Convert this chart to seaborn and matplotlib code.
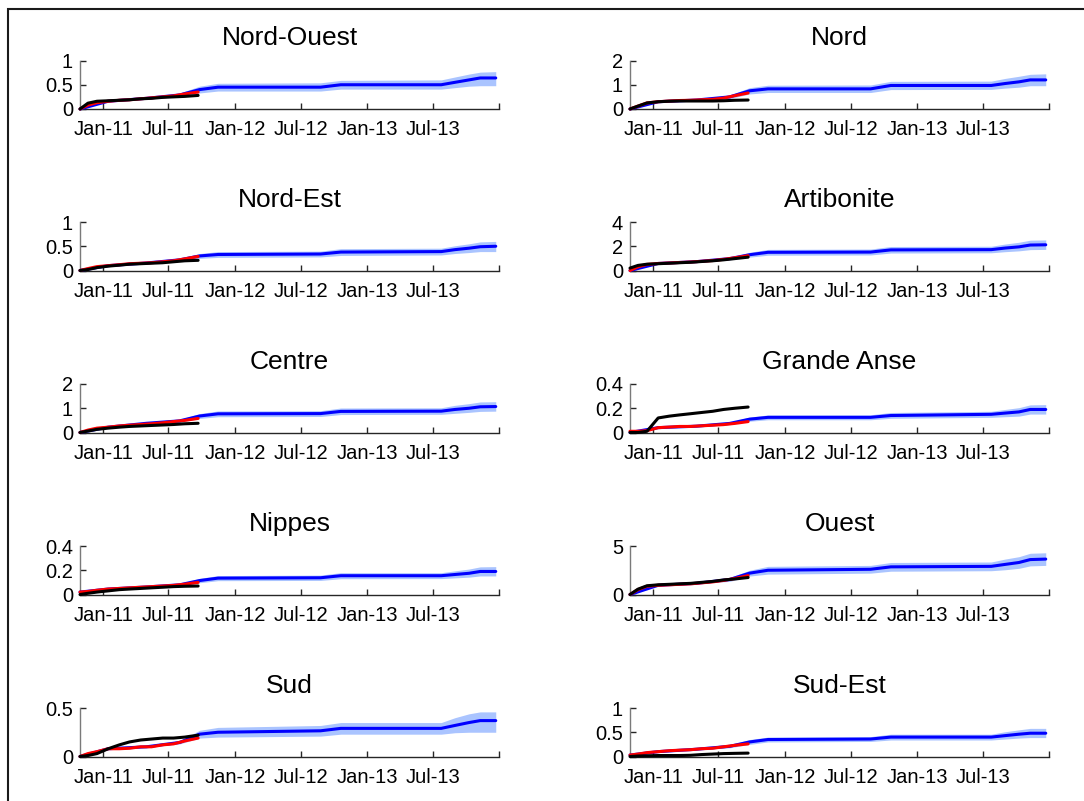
import matplotlib
matplotlib.use("Agg")
import matplotlib.pyplot as plt
from matplotlib.patches import Rectangle
import pandas as pd
import seaborn as sns

# ---------------------------------------------------------------- data
OBS_DATES = ["2010-10-29", "2010-11-20", "2010-12-15", "2011-01-15", "2011-02-15",
             "2011-03-15", "2011-04-15", "2011-05-15", "2011-06-15", "2011-07-15",
             "2011-08-15", "2011-09-21"]
MODEL_DATES = ["2010-10-29", "2011-01-15", "2011-05-01", "2011-08-01", "2011-09-25",
               "2011-11-15", "2012-08-25", "2012-10-20", "2013-07-25", "2013-09-01",
               "2013-10-10", "2013-11-10", "2013-12-23"]

X_START, X_END = "2010-10-29", "2014-01-01"
X_TICKS = ["2011-01-01", "2011-07-01", "2012-01-01", "2012-07-01",
           "2013-01-01", "2013-07-01", "2014-01-01"]
X_TICK_LABELS = ["Jan-11", "Jul-11", "Jan-12", "Jul-12", "Jan-13", "Jul-13", ""]

REGIONS = ["Nord-Ouest", "Nord", "Nord-Est", "Artibonite", "Centre",
           "Grande Anse", "Nippes", "Ouest", "Sud", "Sud-Est"]

NORD_OUEST_YTICKS = [0, 0.5, 1]
NORD_OUEST_FIT = [0, 0.16, 0.22, 0.29, 0.40, 0.45, 0.45, 0.50, 0.50, 0.55, 0.60, 0.64, 0.64]
NORD_OUEST_LO = [0, 0.16, 0.21, 0.25, 0.33, 0.37, 0.37, 0.41, 0.41, 0.44, 0.47, 0.48, 0.48]
NORD_OUEST_HI = [0, 0.16, 0.23, 0.33, 0.47, 0.53, 0.54, 0.59, 0.60, 0.66, 0.72, 0.76, 0.77]
NORD_OUEST_RED = [0, 0.08, 0.13, 0.16, 0.18, 0.19, 0.21, 0.23, 0.25, 0.27, 0.31, 0.35]
NORD_OUEST_BLACK = [0, 0.12, 0.16, 0.17, 0.18, 0.19, 0.21, 0.22, 0.24, 0.25, 0.26, 0.28]

NORD_YTICKS = [0, 1, 2]
NORD_FIT = [0, 0.30, 0.37, 0.50, 0.75, 0.83, 0.83, 0.97, 0.97, 1.05, 1.12, 1.20, 1.20]
NORD_LO = [0, 0.30, 0.36, 0.43, 0.62, 0.68, 0.68, 0.80, 0.81, 0.86, 0.90, 0.96, 0.96]
NORD_HI = [0, 0.30, 0.38, 0.57, 0.88, 0.98, 0.99, 1.14, 1.15, 1.26, 1.35, 1.43, 1.45]
NORD_RED = [0, 0.12, 0.25, 0.30, 0.33, 0.35, 0.36, 0.38, 0.40, 0.45, 0.55, 0.66]
NORD_BLACK = [0, 0.12, 0.25, 0.30, 0.32, 0.33, 0.33, 0.33, 0.33, 0.34, 0.36, 0.37]

NORD_EST_YTICKS = [0, 0.5, 1]
NORD_EST_FIT = [0, 0.10, 0.155, 0.22, 0.30, 0.33, 0.34, 0.38, 0.39, 0.43, 0.46, 0.49, 0.50]
NORD_EST_LO = [0, 0.10, 0.15, 0.19, 0.25, 0.27, 0.28, 0.31, 0.32, 0.35, 0.37, 0.39, 0.39]
NORD_EST_HI = [0, 0.10, 0.16, 0.25, 0.35, 0.39, 0.40, 0.45, 0.46, 0.51, 0.55, 0.59, 0.60]
NORD_EST_RED = [0, 0.04, 0.08, 0.10, 0.12, 0.14, 0.15, 0.16, 0.18, 0.20, 0.24, 0.29]
NORD_EST_BLACK = [0, 0.02, 0.06, 0.09, 0.11, 0.13, 0.14, 0.15, 0.16, 0.18, 0.20, 0.21]

ARTIBONITE_YTICKS = [0, 2, 4]
ARTIBONITE_FIT = [0, 0.58, 0.73, 0.98, 1.30, 1.50, 1.52, 1.70, 1.72, 1.85, 1.95, 2.10, 2.12]
ARTIBONITE_LO = [0, 0.58, 0.71, 0.88, 1.10, 1.26, 1.28, 1.44, 1.46, 1.55, 1.62, 1.72, 1.74]
ARTIBONITE_HI = [0, 0.58, 0.75, 1.08, 1.50, 1.74, 1.77, 1.98, 2.00, 2.18, 2.33, 2.50, 2.52]
ARTIBONITE_RED = [0, 0.30, 0.50, 0.58, 0.62, 0.66, 0.70, 0.76, 0.82, 0.92, 1.05, 1.22]
ARTIBONITE_BLACK = [0.2, 0.42, 0.52, 0.56, 0.60, 0.64, 0.68, 0.74, 0.80, 0.88, 0.98, 1.10]

CENTRE_YTICKS = [0, 1, 2]
CENTRE_FIT = [0, 0.22, 0.38, 0.48, 0.68, 0.77, 0.78, 0.87, 0.88, 0.95, 1.00, 1.06, 1.07]
CENTRE_LO = [0, 0.22, 0.37, 0.42, 0.58, 0.65, 0.66, 0.74, 0.75, 0.79, 0.83, 0.87, 0.88]
CENTRE_HI = [0, 0.22, 0.39, 0.54, 0.78, 0.89, 0.90, 1.01, 1.02, 1.12, 1.19, 1.26, 1.27]
CENTRE_RED = [0, 0.10, 0.18, 0.22, 0.27, 0.30, 0.33, 0.36, 0.40, 0.45, 0.50, 0.58]
CENTRE_BLACK = [0, 0.06, 0.13, 0.18, 0.22, 0.25, 0.27, 0.29, 0.31, 0.33, 0.36, 0.38]

GRANDE_ANSE_YTICKS = [0, 0.2, 0.4]
GRANDE_ANSE_FIT = [0, 0.04, 0.052, 0.075, 0.11, 0.125, 0.125, 0.14, 0.15, 0.16, 0.17, 0.19, 0.19]
GRANDE_ANSE_LO = [0, 0.04, 0.05, 0.065, 0.093, 0.105, 0.105, 0.117, 0.125, 0.13, 0.135, 0.152, 0.152]
GRANDE_ANSE_HI = [0, 0.04, 0.054, 0.085, 0.127, 0.145, 0.146, 0.165, 0.175, 0.19, 0.205, 0.228, 0.23]
GRANDE_ANSE_RED = [0.01, 0.01, 0.015, 0.04, 0.045, 0.05, 0.05, 0.055, 0.06, 0.065, 0.075, 0.09]
GRANDE_ANSE_BLACK = [0, 0, 0.01, 0.12, 0.135, 0.145, 0.155, 0.165, 0.175, 0.19, 0.20, 0.21]

NIPPES_YTICKS = [0, 0.2, 0.4]
NIPPES_FIT = [0.02, 0.045, 0.062, 0.08, 0.115, 0.135, 0.138, 0.155, 0.155, 0.165, 0.175, 0.19, 0.19]
NIPPES_LO = [0.02, 0.045, 0.06, 0.07, 0.097, 0.114, 0.116, 0.13, 0.131, 0.137, 0.143, 0.153, 0.153]
NIPPES_HI = [0.02, 0.045, 0.064, 0.09, 0.133, 0.156, 0.16, 0.18, 0.18, 0.195, 0.21, 0.228, 0.23]
NIPPES_RED = [0.02, 0.025, 0.035, 0.045, 0.05, 0.055, 0.06, 0.065, 0.07, 0.075, 0.085, 0.10]
NIPPES_BLACK = [0, 0.01, 0.02, 0.03, 0.04, 0.045, 0.05, 0.055, 0.06, 0.065, 0.068, 0.07]

OUEST_YTICKS = [0, 5]
OUEST_FIT = [0, 0.95, 1.15, 1.55, 2.2, 2.5, 2.6, 2.85, 2.9, 3.1, 3.3, 3.6, 3.65]
OUEST_LO = [0, 0.95, 1.12, 1.35, 1.9, 2.1, 2.2, 2.4, 2.45, 2.55, 2.7, 2.95, 3.0]
OUEST_HI = [0, 0.95, 1.18, 1.75, 2.5, 2.9, 3.0, 3.3, 3.35, 3.65, 3.9, 4.25, 4.3]
OUEST_RED = [0, 0.5, 0.85, 0.95, 1.0, 1.05, 1.1, 1.2, 1.3, 1.45, 1.65, 1.95]
OUEST_BLACK = [0, 0.55, 0.9, 1.0, 1.05, 1.1, 1.15, 1.25, 1.35, 1.5, 1.6, 1.75]

SUD_YTICKS = [0, 0.5]
SUD_FIT = [0, 0.08, 0.10, 0.145, 0.23, 0.25, 0.265, 0.29, 0.29, 0.32, 0.35, 0.37, 0.37]
SUD_LO = [0, 0.08, 0.10, 0.13, 0.19, 0.20, 0.21, 0.23, 0.23, 0.245, 0.25, 0.25, 0.25]
SUD_HI = [0, 0.08, 0.10, 0.16, 0.27, 0.30, 0.32, 0.35, 0.35, 0.40, 0.44, 0.46, 0.46]
SUD_RED = [0, 0.03, 0.05, 0.08, 0.08, 0.085, 0.10, 0.10, 0.12, 0.13, 0.16, 0.19]
SUD_BLACK = [0, 0.01, 0.03, 0.08, 0.12, 0.15, 0.17, 0.18, 0.19, 0.19, 0.20, 0.22]

SUD_EST_YTICKS = [0, 0.5, 1]
SUD_EST_FIT = [0.03, 0.10, 0.15, 0.21, 0.30, 0.35, 0.36, 0.40, 0.40, 0.43, 0.46, 0.48, 0.48]
SUD_EST_LO = [0.03, 0.10, 0.145, 0.18, 0.25, 0.30, 0.31, 0.34, 0.34, 0.36, 0.38, 0.39, 0.39]
SUD_EST_HI = [0.03, 0.10, 0.155, 0.24, 0.35, 0.40, 0.41, 0.46, 0.46, 0.51, 0.55, 0.58, 0.58]
SUD_EST_RED = [0.03, 0.05, 0.08, 0.10, 0.12, 0.13, 0.14, 0.16, 0.17, 0.20, 0.23, 0.26]
SUD_EST_BLACK = [0, 0.01, 0.015, 0.02, 0.02, 0.02, 0.025, 0.04, 0.05, 0.06, 0.065, 0.07]

PANELS = [
    (NORD_OUEST_YTICKS, NORD_OUEST_FIT, NORD_OUEST_LO, NORD_OUEST_HI, NORD_OUEST_RED, NORD_OUEST_BLACK),
    (NORD_YTICKS, NORD_FIT, NORD_LO, NORD_HI, NORD_RED, NORD_BLACK),
    (NORD_EST_YTICKS, NORD_EST_FIT, NORD_EST_LO, NORD_EST_HI, NORD_EST_RED, NORD_EST_BLACK),
    (ARTIBONITE_YTICKS, ARTIBONITE_FIT, ARTIBONITE_LO, ARTIBONITE_HI, ARTIBONITE_RED, ARTIBONITE_BLACK),
    (CENTRE_YTICKS, CENTRE_FIT, CENTRE_LO, CENTRE_HI, CENTRE_RED, CENTRE_BLACK),
    (GRANDE_ANSE_YTICKS, GRANDE_ANSE_FIT, GRANDE_ANSE_LO, GRANDE_ANSE_HI, GRANDE_ANSE_RED, GRANDE_ANSE_BLACK),
    (NIPPES_YTICKS, NIPPES_FIT, NIPPES_LO, NIPPES_HI, NIPPES_RED, NIPPES_BLACK),
    (OUEST_YTICKS, OUEST_FIT, OUEST_LO, OUEST_HI, OUEST_RED, OUEST_BLACK),
    (SUD_YTICKS, SUD_FIT, SUD_LO, SUD_HI, SUD_RED, SUD_BLACK),
    (SUD_EST_YTICKS, SUD_EST_FIT, SUD_EST_LO, SUD_EST_HI, SUD_EST_RED, SUD_EST_BLACK),
]

# ---------------------------------------------------------------- style
sns.set_style("ticks")
plt.rcParams["font.family"] = ["Liberation Sans", "DejaVu Sans"]
plt.rcParams["text.color"] = "black"

BAND_COLOR = "#aac4ff"
FIT_COLOR = "#0000ff"
RED_COLOR = "#ff0000"
BLACK_COLOR = "#000000"
LINE_W = 2.2

W, H = 1084, 801
fig = plt.figure(figsize=(W / 100, H / 100), dpi=100)
fig.patch.set_facecolor("white")

# frame around the figure
fig.add_artist(Rectangle((7.5 / W, -0.1), 1.2, (H - 8.5) / H + 0.1,
                         transform=fig.transFigure, fill=False,
                         edgecolor="#1a1a1a", linewidth=1.5, zorder=10))

COL_X = [80, 630]
AX_W = 419
AX_H = 48.5
ROW_BOTTOM = [109, 270.5, 432.5, 594.5, 756.5]

obs_x = pd.to_datetime(OBS_DATES)
model_x = pd.to_datetime(MODEL_DATES)
tick_x = pd.to_datetime(X_TICKS)

for i, (name, panel) in enumerate(zip(REGIONS, PANELS)):
    yticks, fit, lo, hi, red, black = panel
    row, col = divmod(i, 2)
    rect = [COL_X[col] / W, (H - ROW_BOTTOM[row]) / H, AX_W / W, AX_H / H]
    ax = fig.add_axes(rect)
    ax.set_facecolor("none")

    ax.fill_between(model_x, lo, hi, color=BAND_COLOR, linewidth=0, zorder=1)
    sns.lineplot(x=model_x, y=fit, ax=ax, color=FIT_COLOR, linewidth=LINE_W,
                 zorder=3, clip_on=False)
    sns.lineplot(x=obs_x, y=red, ax=ax, color=RED_COLOR, linewidth=LINE_W,
                 zorder=4, clip_on=False)
    sns.lineplot(x=obs_x, y=black, ax=ax, color=BLACK_COLOR, linewidth=LINE_W,
                 zorder=5, clip_on=False)

    ax.set_xlim(pd.Timestamp(X_START), pd.Timestamp(X_END))
    ax.set_ylim(0, yticks[-1])
    ax.set_xticks(tick_x)
    ax.set_xticklabels(X_TICK_LABELS)
    ax.set_yticks(yticks)
    ax.set_yticklabels([f"{t:g}" for t in yticks])
    ax.set_xlabel("")
    ax.set_ylabel("")

    for side in ("top", "right"):
        ax.spines[side].set_visible(False)
    ax.spines["left"].set_color("#7a7a7a")
    ax.spines["bottom"].set_color("#262626")
    ax.spines["left"].set_linewidth(1.0)
    ax.spines["bottom"].set_linewidth(1.0)

    ax.tick_params(axis="both", direction="in", length=4, width=1,
                   color="#262626", labelsize=14.5, labelcolor="black",
                   bottom=True, left=True, top=False, right=False)
    ax.tick_params(axis="x", pad=8)
    ax.tick_params(axis="y", pad=5)
    ax.set_title(name, fontsize=19, pad=11, color="black")

fig.savefig("out.png", dpi=100, facecolor="white")
